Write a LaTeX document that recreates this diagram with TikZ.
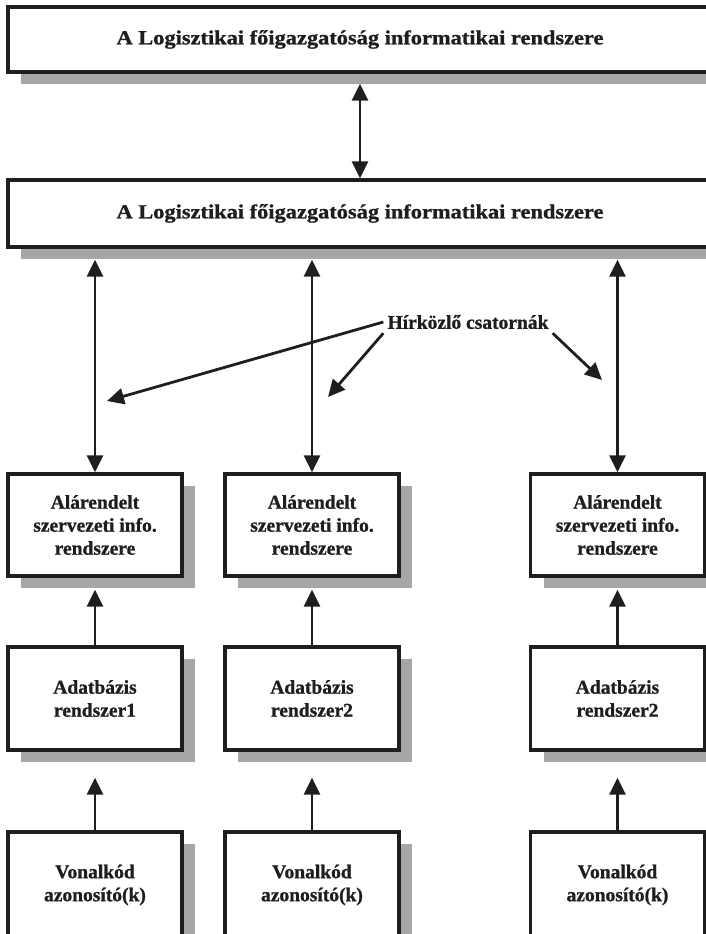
\documentclass[tikz,border=0pt]{standalone}
\usepackage{fontspec}
\setmainfont{Liberation Serif}[BoldFeatures={FakeBold=1}]
\usetikzlibrary{arrows.meta,shadows}
\definecolor{cink}{HTML}{1E1E1E}
\definecolor{cshade}{HTML}{A6A6A6}
\newcommand{\widetext}[1]{\scalebox{1.12}[1]{#1}}

\begin{document}
\begin{tikzpicture}[x=1pt,y=-1pt,
  every node/.style={font=\bfseries\fontsize{19.5}{23}\selectfont,text=cink},
  box/.style={draw=cink,line width=3.3pt,fill=white,align=center,inner sep=0pt,
    drop shadow={shadow xshift=13pt,shadow yshift=-12pt,fill=cshade,opacity=1}},
  conn/.style={draw=cink,line width=2.8pt,-{Triangle[length=17pt,width=16pt]}},
  both/.style={conn,{Triangle[length=17pt,width=16pt]}-{Triangle[length=17pt,width=16pt]}}]
  \useasboundingbox (0,0) rectangle (706,934);
  % felso szint
  \node[box,minimum width=704pt,minimum height=65pt,font=\bfseries\fontsize{20}{24}\selectfont] (log1) at (360,39.5) {\widetext{A Logisztikai főigazgatóság informatikai rendszere}};
  \node[box,minimum width=704pt,minimum height=67pt,font=\bfseries\fontsize{20}{24}\selectfont] (log2) at (360,213.5) {\widetext{A Logisztikai főigazgatóság informatikai rendszere}};
  \draw[both] ([yshift=-10pt]log1.south) -- (log2.north);
  % harom oszlop
  \foreach \n/\x/\r in {1/95/1,2/312/2,3/617.5/2}{
    \node[box,minimum width=174pt,minimum height=102pt] (ali\n) at (\x,525) {Alárendelt\\szervezeti info.\\rendszere};
    \node[box,minimum width=174pt,minimum height=103pt] (adat\n) at (\x,698.5) {Adatbázis\\rendszer\r};
    \node[box,minimum width=174pt,minimum height=106pt] (von\n) at (\x,885) {Vonalkód\\azonosító(k)};
    \draw[both] ([yshift=-11pt]log2.south -| ali\n.north) -- (ali\n.north);
    \draw[conn] (adat\n.north) -- ([yshift=-12pt]ali\n.south);
    \draw[conn] (von\n.north) -- ([yshift=-26pt]adat\n.south);
  }
  % hirkozlo csatornak
  \node[inner sep=4pt] (hir) at (468,322) {Hírközlő csatornák};
  \coordinate (pl) at (107,401);
  \coordinate (pm) at (328,397);
  \coordinate (pr) at (602,380);
  \draw[conn] (hir.west) -- (pl);
  \draw[conn] (hir.south west) -- (pm);
  \draw[conn] (hir.south east) -- (pr);
\end{tikzpicture}
\end{document}
